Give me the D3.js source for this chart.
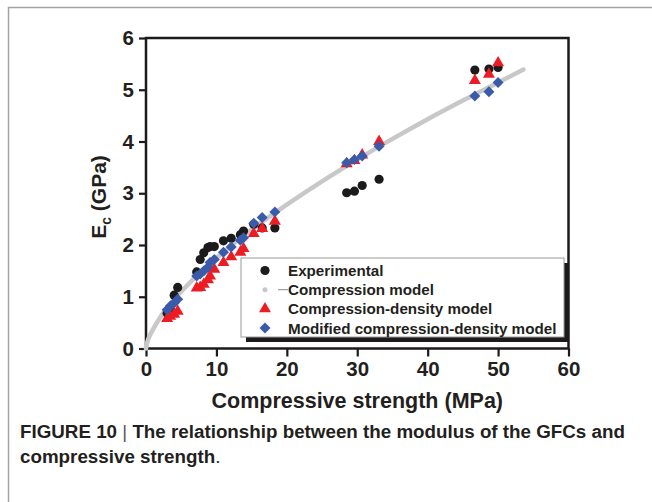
<!DOCTYPE html>
<html>
<head>
<meta charset="utf-8">
<script src="https://cdn.jsdelivr.net/npm/d3@7"></script>
<style>
  body { margin: 0; background: #fff; }
  text { font-family: "Liberation Sans", Arial, sans-serif; fill: #231f20; }
</style>
</head>
<body>
<div id="chart"></div>
<script>
const width = 652, height = 502;

// compressive strength (MPa) of each specimen
const strength = [3.0, 3.45, 4.0, 4.5, 7.2, 7.7, 8.2, 8.8, 9.1, 9.7,
    11.0, 12.1, 13.4, 13.85, 15.3, 16.5, 18.3, 28.5, 29.6, 30.7, 33.1, 46.7, 48.7, 50.0];

// modulus Ec (GPa)
const experimental = [0.68, 0.75, 1.03, 1.18, 1.48, 1.72, 1.85, 1.95, 1.97, 1.97,
    2.08, 2.13, 2.2, 2.27, 2.4, 2.33, 2.33, 3.01, 3.04, 3.15, 3.27, 5.38, 5.40, 5.43];
const compDensity = [0.58, 0.62, 0.66, 0.72, 1.17, 1.18, 1.24, 1.33, 1.40, 1.53,
    1.66, 1.77, 1.86, 1.93, 2.22, 2.32, 2.46, 3.57, 3.63, 3.74, 4.0, 5.18, 5.30, 5.52];
const modCompDensity = [0.75, 0.82, 0.88, 0.95, 1.40, 1.44, 1.50, 1.57, 1.66, 1.72,
    1.86, 1.96, 2.09, 2.14, 2.42, 2.53, 2.64, 3.59, 3.65, 3.72, 3.91, 4.88, 4.96, 5.14];

// compression model curve
const curveX = [0, 0.2, 0.5, 1, 2, 4, 6, 8, 10, 15, 20, 25, 30, 35, 40, 45, 50, 53.6];
const curveY = [0, 0.13, 0.24, 0.37, 0.6, 0.95, 1.24, 1.51, 1.75, 2.3, 2.78, 3.23, 3.65, 4.05, 4.43, 4.79, 5.14, 5.39];

const xTicks = [0, 10, 20, 30, 40, 50, 60];
const yTicks = [0, 1, 2, 3, 4, 5, 6];

const legendItems = [
    { label: "Experimental", type: "circle" },
    { label: "Compression model", type: "line" },
    { label: "Compression-density model", type: "triangle" },
    { label: "Modified compression-density model", type: "diamond" }
];

const colors = { circle: "#1c1a1b", line: "#c8c8c8", triangle: "#ec1c24", diamond: "#3a5ba9" };

const svg = d3.select("#chart").append("svg")
    .attr("width", width)
    .attr("height", height);

// page border
svg.append("path")
    .attr("d", "M8.5,502V7.5H652")
    .attr("fill", "none")
    .attr("stroke", "#a3a3a3")
    .attr("stroke-width", 1.5);

const x = d3.scaleLinear().domain([0, 60]).range([146, 568.5]);
const y = d3.scaleLinear().domain([0, 6]).range([348.5, 38]);

// frame
svg.append("rect")
    .attr("x", x(0)).attr("y", y(6))
    .attr("width", x(60) - x(0)).attr("height", y(0) - y(6))
    .attr("fill", "none")
    .attr("stroke", "#1c1a1b")
    .attr("stroke-width", 2.5);

const xAxis = svg.append("g")
    .attr("transform", `translate(0,${y(0)})`)
    .call(d3.axisBottom(x).tickValues(xTicks).tickFormat(d3.format("d")).tickSize(8).tickPadding(5));
const yAxis = svg.append("g")
    .attr("transform", `translate(${x(0)},0)`)
    .call(d3.axisLeft(y).tickValues(yTicks).tickFormat(d3.format("d")).tickSize(7).tickPadding(5));

[xAxis, yAxis].forEach(g => {
    g.select(".domain").remove();
    g.selectAll(".tick line").attr("stroke", "#1c1a1b").attr("stroke-width", 2.2);
    g.selectAll(".tick text")
        .attr("fill", "#231f20")
        .style("font-size", "20.5px")
        .style("font-weight", "bold")
        .style("font-family", "'Liberation Sans', Arial, sans-serif");
});

// axis titles
svg.append("text")
    .attr("x", (x(0) + x(60)) / 2)
    .attr("y", 408)
    .attr("text-anchor", "middle")
    .style("font-size", "21.5px")
    .style("font-weight", "bold")
    .text("Compressive strength (MPa)");

const yTitle = svg.append("text")
    .attr("transform", "translate(106,197) rotate(-90)")
    .attr("text-anchor", "middle")
    .style("font-size", "21px")
    .style("font-weight", "bold");
yTitle.append("tspan").text("E");
yTitle.append("tspan").attr("dy", 5).style("font-size", "14px").text("c");
yTitle.append("tspan").attr("dy", -5).text(" (GPa)");

// compression model line
const line = d3.line()
    .x(d => x(d[0]))
    .y(d => y(d[1]))
    .curve(d3.curveMonotoneX);

svg.append("path")
    .datum(d3.zip(curveX, curveY))
    .attr("d", line)
    .attr("fill", "none")
    .attr("stroke", colors.line)
    .attr("stroke-width", 4.5)
    .attr("stroke-linecap", "round");

const sym = {
    circle: d3.symbol().type(d3.symbolCircle).size(66),
    triangle: d3.symbol().type(d3.symbolTriangle).size(62),
    diamond: d3.symbol().type(d3.symbolSquare).size(60)
};

function drawSeries(values, type) {
    svg.append("g").selectAll("path")
        .data(d3.zip(strength, values))
        .join("path")
        .attr("d", sym[type])
        .attr("transform", d => `translate(${x(d[0])},${y(d[1])})` + (type === "diamond" ? " rotate(45)" : ""))
        .attr("fill", colors[type]);
}

drawSeries(experimental, "circle");
drawSeries(compDensity, "triangle");
drawSeries(modCompDensity, "diamond");

// legend with shadow
const lg = { x: 241, y: 258, w: 323, h: 79 };
svg.append("rect")
    .attr("x", lg.x + 5).attr("y", lg.y + 5)
    .attr("width", lg.w).attr("height", lg.h)
    .attr("fill", "#1c1a1b");
svg.append("rect")
    .attr("x", lg.x).attr("y", lg.y)
    .attr("width", lg.w).attr("height", lg.h)
    .attr("fill", "#fff")
    .attr("stroke", "#9a9a9a")
    .attr("stroke-width", 1);

const rows = svg.append("g").selectAll("g")
    .data(legendItems)
    .join("g")
    .attr("transform", (d, i) => `translate(${lg.x + 24},${lg.y + 12.5 + i * 19.2})`);

rows.each(function (d) {
    const g = d3.select(this);
    if (d.type === "line") {
        g.append("circle").attr("r", 2.5).attr("fill", colors.line);
        g.append("line")
            .attr("x1", 13).attr("x2", 23)
            .attr("stroke", "#8c8c8c").attr("stroke-width", 1);
    } else {
        g.append("path")
            .attr("d", sym[d.type])
            .attr("transform", d.type === "diamond" ? "rotate(45)" : null)
            .attr("fill", colors[d.type]);
    }
});

rows.append("text")
    .attr("x", 23)
    .attr("dy", "0.36em")
    .style("font-size", "15.2px")
    .style("font-weight", "bold")
    .text(d => d.label);

// caption
const cap1 = svg.append("text")
    .attr("x", 20).attr("y", 438)
    .style("font-size", "18.8px")
    .style("font-weight", "bold");
cap1.append("tspan").text("FIGURE 10 ");
cap1.append("tspan").style("font-weight", "normal").attr("fill", "#555").text("|");
cap1.append("tspan").text(" The relationship between the modulus of the GFCs and");

const cap2 = svg.append("text")
    .attr("x", 20).attr("y", 463)
    .style("font-size", "18.8px")
    .style("font-weight", "bold");
cap2.append("tspan").text("compressive strength");
cap2.append("tspan").style("font-weight", "normal").text(".");
</script>
</body>
</html>
